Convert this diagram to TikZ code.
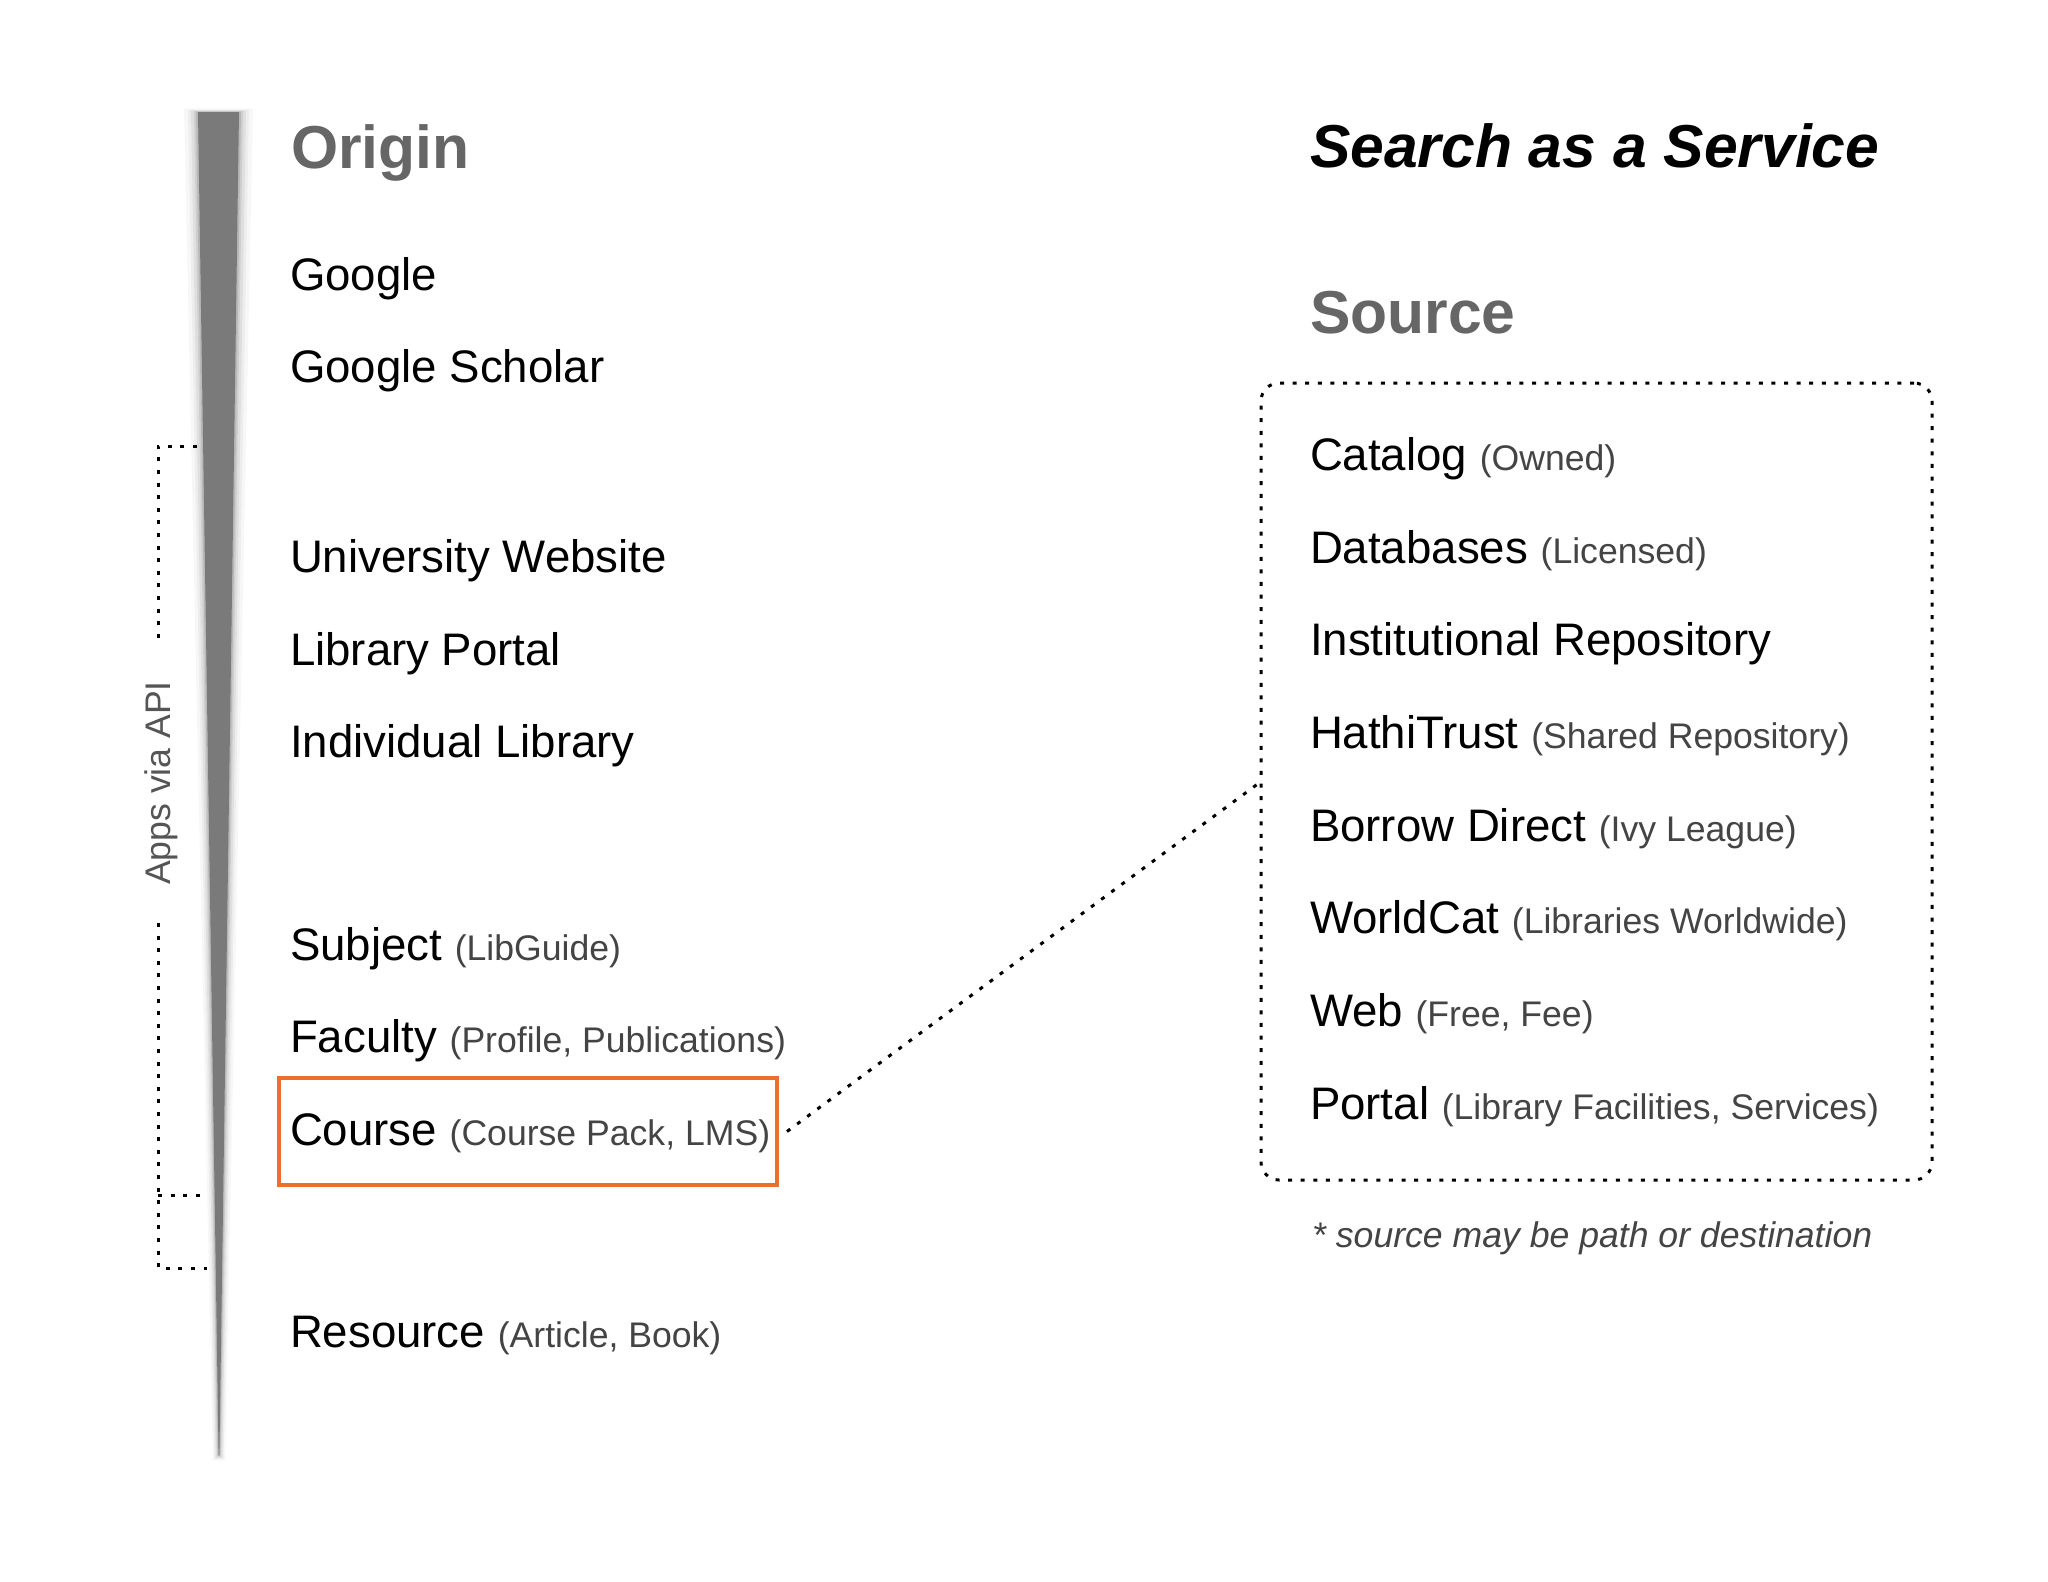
\documentclass[tikz,border=0pt]{standalone}
\usepackage{fontspec}
\setmainfont{Liberation Sans}
\definecolor{subgray}{HTML}{444444}
\definecolor{appsgray}{HTML}{555555}
\definecolor{titlegray}{HTML}{666666}
\definecolor{wedgegray}{HTML}{7A7A7A}
\definecolor{orangeline}{HTML}{EE6E2E}
\newcommand\subtx[1]{{\fontsize{35.6pt}{42pt}\selectfont\color{subgray}#1}}
\begin{document}
\begin{tikzpicture}[x=1pt,y=-1pt,
  main/.style={anchor=base west, inner sep=0pt, outer sep=0pt, font=\fontsize{45.6pt}{54pt}\selectfont, text=black},
  titletext/.style={anchor=base west, inner sep=0pt, outer sep=0pt, font=\fontsize{60.6pt}{72pt}\selectfont\bfseries, text=titlegray},
  dotline/.style={draw=black, line width=3pt, dash pattern=on 4pt off 8.6pt},
  orangebox/.style={draw=orangeline, line width=4.5pt, inner sep=0pt, outer sep=0pt},
  srcboxstyle/.style={dotline, rounded corners=18pt, inner sep=0pt, outer sep=0pt},
  ]
\useasboundingbox[fill=white] (0,0) rectangle (2048,1582);
% wedge shadow
\foreach \w/\o in {14/0.03, 10/0.04, 7/0.055, 4/0.075, 2/0.1} {
  \fill[black, opacity=\o] (198-\w,112-0.25*\w) -- (239+\w,112-0.25*\w) -- (219.5+0.4*\w,1455+0.4*\w) -- (218.5-0.4*\w,1455+0.4*\w) -- cycle;
}
% wedge
\fill[wedgegray] (198,112) -- (239,112) -- (219.4,1455) -- (218.6,1455) -- cycle;

% titles
\node[titletext] (origin) at (291,168) {Origin};
\node[titletext, font=\fontsize{60.6pt}{72pt}\selectfont\bfseries\itshape, text=black] (saas) at (1310,167) {Search as a Service};
\node[titletext] (source) at (1310,333) {Source};

% left column
\node[main] (google) at (290,290) {Google};
\node[main] (scholar) at (290,382) {Google Scholar};
\node[main] (univ) at (290,572) {University Website};
\node[main] (libportal) at (290,665) {Library Portal};
\node[main] (indiv) at (290,757) {Individual Library};
\node[main] (subject) at (290,960) {Subject \subtx{(LibGuide)}};
\node[main] (faculty) at (290,1052) {Faculty \subtx{(Profile, Publications)}};
\node[main] (coursetxt) at (290,1145) {Course \subtx{(Course Pack, LMS)}};
\node[main] (resource) at (290,1347) {Resource \subtx{(Article, Book)}};
\node[orangebox, minimum width=498pt, minimum height=107pt] (course) at (528,1131.5) {};

% right column
\node[srcboxstyle, minimum width=671pt, minimum height=797pt] (srcbox) at (1596.5,781.5) {};
\node[main] (catalog) at (1310,470) {Catalog \subtx{(Owned)}};
\node[main] (databases) at (1310,563) {Databases \subtx{(Licensed)}};
\node[main] (instrepo) at (1310,655) {Institutional Repository};
\node[main] (hathi) at (1310,748) {HathiTrust \subtx{(Shared Repository)}};
\node[main] (borrow) at (1310,841) {Borrow Direct \subtx{(Ivy League)}};
\node[main] (worldcat) at (1310,933) {WorldCat \subtx{(Libraries Worldwide)}};
\node[main] (web) at (1310,1026) {Web \subtx{(Free, Fee)}};
\node[main] (portal) at (1310,1119) {Portal \subtx{(Library Facilities, Services)}};
\node[anchor=base west, inner sep=0pt, font=\fontsize{35.6pt}{42pt}\selectfont\itshape, text=subgray] (note) at (1312,1247) {* source may be path or destination};

% connector
\draw[dotline] ([xshift=10pt]course.east) -- (srcbox.west);

% Apps via API bracket
\node[rotate=90, anchor=base, inner sep=0pt, font=\fontsize{35.6pt}{42pt}\selectfont, text=appsgray] (apps) at (170,783) {Apps via API};
\coordinate (bTopEnd) at (197,446);
\coordinate (bTop) at (158,446);
\coordinate (bUpGap) at (158,643);
\coordinate (bLowGap) at (158,923);
\coordinate (bMid) at (158,1195);
\coordinate (bMidEnd) at (207,1195);
\coordinate (bBot) at (158,1268);
\coordinate (bBotEnd) at (207,1268);
\draw[dotline] (bTopEnd) -- (bTop) -- (bUpGap);
\draw[dotline] (bLowGap) -- (bBot) -- (bBotEnd);
\draw[dotline] (bMid) -- (bMidEnd);
\end{tikzpicture}
\end{document}
